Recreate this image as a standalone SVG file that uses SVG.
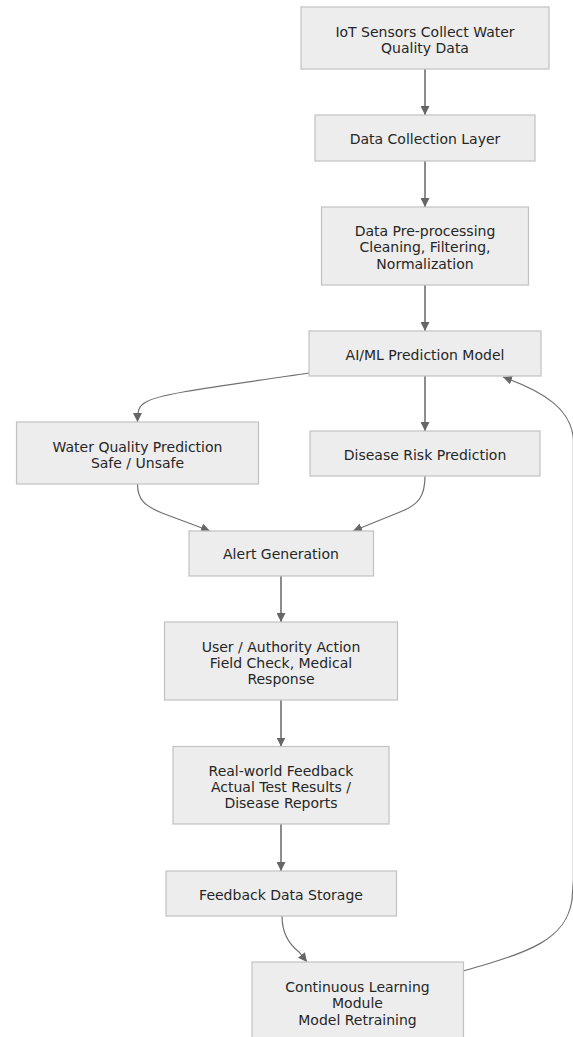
<svg xmlns="http://www.w3.org/2000/svg" width="573" height="1037" viewBox="0 0 573 1037">
<style>
.box{fill:#ededed;stroke:#c2c2c2;stroke-width:1.2}
.lbl{font-family:"DejaVu Sans","Liberation Sans",sans-serif;font-size:14px;fill:#262626;text-anchor:middle;dominant-baseline:central}
.edge{fill:none;stroke:#707070;stroke-width:1.6}
.thin{fill:none;stroke:#707070;stroke-width:1.2}
</style>
<defs>
<marker id="arr" viewBox="0 0 10 10" refX="10" refY="5" markerWidth="9" markerHeight="9" markerUnits="userSpaceOnUse" orient="auto">
<path d="M0,0 L10,5 L0,10 z" fill="#666"/>
</marker>
</defs>
<rect width="573" height="1037" fill="#fff"/>
<g id="connectors">
<path class="edge" d="M425,69 L425,115" marker-end="url(#arr)"/>
<path class="edge" d="M425,161 L425,207" marker-end="url(#arr)"/>
<path class="edge" d="M425,285 L425,331" marker-end="url(#arr)"/>
<path class="thin" d="M309,373 C230,385 160,393 146,402 C139,406 137.5,410 137.5,422" marker-end="url(#arr)"/>
<path class="edge" d="M425,376 L425,431" marker-end="url(#arr)"/>
<path class="thin" d="M137.5,484 C137.5,500 145,506 162,513 L210,531" marker-end="url(#arr)"/>
<path class="thin" d="M425,476 C425,497 418,505 400,512 L353,531" marker-end="url(#arr)"/>
<path class="edge" d="M281,576 L281,622" marker-end="url(#arr)"/>
<path class="edge" d="M281,700 L281,746.5" marker-end="url(#arr)"/>
<path class="edge" d="M281,824 L281,871" marker-end="url(#arr)"/>
<path class="thin" d="M282,916 C282,935 290,945 299,952 L307,962" marker-end="url(#arr)"/>
<path class="thin" d="M463,971 C530,952 566,940 572,900 L573.4,880 L573.4,440 C572,410 545,392 503,377" marker-end="url(#arr)"/>
</g>
<g id="n1"><rect class="box" x="301" y="7" width="248" height="62"/><text class="lbl" x="425" y="31.7">IoT Sensors Collect Water</text><text class="lbl" x="425" y="48">Quality Data</text></g>
<g id="n2"><rect class="box" x="315" y="115" width="220" height="46"/><text class="lbl" x="425" y="139.3">Data Collection Layer</text></g>
<g id="n3"><rect class="box" x="321.5" y="207" width="207" height="78"/><text class="lbl" x="425" y="231">Data Pre-processing</text><text class="lbl" x="425" y="247.3">Cleaning, Filtering,</text><text class="lbl" x="425" y="263.6">Normalization</text></g>
<g id="n4"><rect class="box" x="309" y="331" width="232" height="45"/><text class="lbl" x="425" y="355">AI/ML Prediction Model</text></g>
<g id="n5"><rect class="box" x="16.5" y="422" width="242" height="62"/><text class="lbl" x="137.5" y="446.7">Water Quality Prediction</text><text class="lbl" x="137.5" y="463.3">Safe / Unsafe</text></g>
<g id="n6"><rect class="box" x="310" y="431" width="230" height="45"/><text class="lbl" x="425" y="455">Disease Risk Prediction</text></g>
<g id="n7"><rect class="box" x="189" y="531" width="184.5" height="45"/><text class="lbl" x="281" y="554.3">Alert Generation</text></g>
<g id="n8"><rect class="box" x="164.5" y="622" width="233" height="78"/><text class="lbl" x="281" y="646.7">User / Authority Action</text><text class="lbl" x="281" y="662.8">Field Check, Medical</text><text class="lbl" x="281" y="679">Response</text></g>
<g id="n9"><rect class="box" x="173" y="746.5" width="216" height="77.5"/><text class="lbl" x="281" y="771">Real-world Feedback</text><text class="lbl" x="281" y="787.2">Actual Test Results /</text><text class="lbl" x="281" y="803.4">Disease Reports</text></g>
<g id="n10"><rect class="box" x="166" y="871" width="230.5" height="45"/><text class="lbl" x="281" y="895">Feedback Data Storage</text></g>
<g id="n11"><rect class="box" x="252" y="962" width="211.5" height="83"/><text class="lbl" x="357.5" y="986.7">Continuous Learning</text><text class="lbl" x="357.5" y="1003.3">Module</text><text class="lbl" x="357.5" y="1020">Model Retraining</text></g>
</svg>
